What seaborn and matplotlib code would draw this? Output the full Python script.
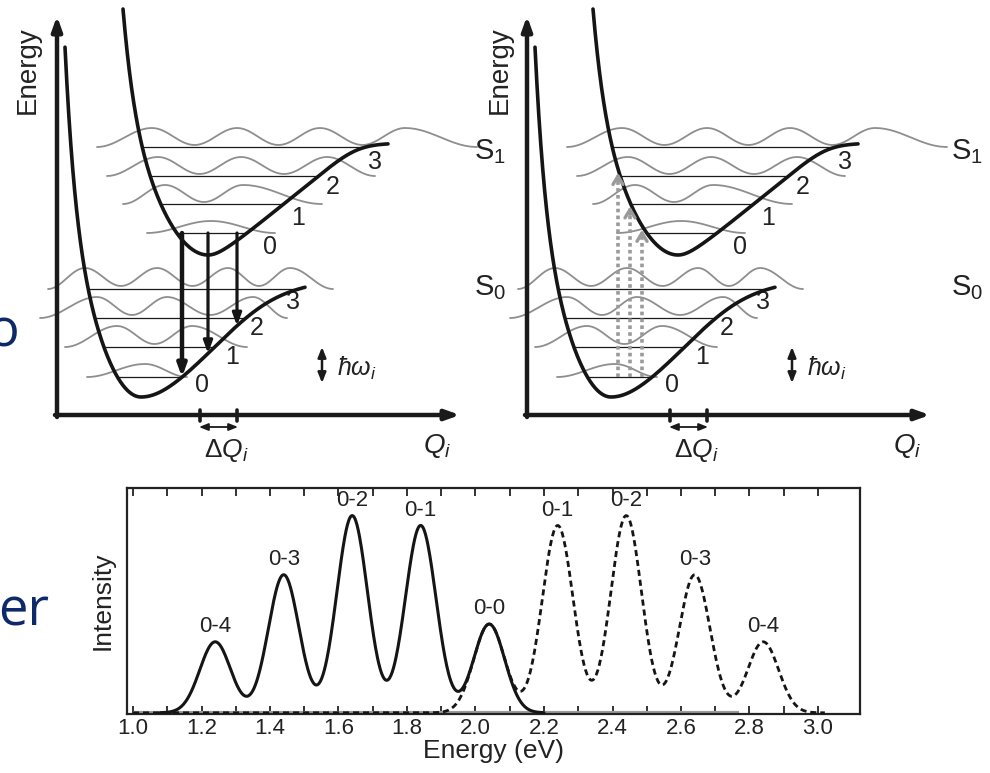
import numpy as np
import pandas as pd
import seaborn as sns
import matplotlib.pyplot as plt

sns.set_theme(style="white")
plt.rcParams['font.family'] = ['Liberation Sans', 'DejaVu Sans']
plt.rcParams['mathtext.fontset'] = 'custom'
plt.rcParams['mathtext.rm'] = 'Liberation Sans'
plt.rcParams['mathtext.it'] = 'Liberation Sans:italic'

# ---------------- spectrum (eV, relative intensity) ----------------
em_energy = [1.24, 1.44, 1.64, 1.84, 2.04]
em_height = [0.36, 0.70, 1.00, 0.95, 0.45]
em_label = ['0-4', '0-3', '0-2', '0-1', '0-0']
ab_energy = [2.04, 2.24, 2.44, 2.64, 2.84]
ab_height = [0.45, 0.95, 1.00, 0.70, 0.36]
ab_label = ['', '0-1', '0-2', '0-3', '0-4']
peak_sigma = 0.045
energy_ticks = [1.0, 1.2, 1.4, 1.6, 1.8, 2.0, 2.2, 2.4, 2.6, 2.8, 3.0]

# ------------- configuration-coordinate diagram (pixel units) -------------
# potential wells: minimum position, left wall and right branch shape
s0_well = dict(x0=141, y0=397, k=0.036, d1=81, s=1.15, c=40, D=120, p=4, xmin=65, xmax=305)
s1_well = dict(x0=208, y0=255, k=0.0225, d1=95, s=0.82, c=15, D=112, p=12, xmin=123, xmax=388)
s0_levels = [20, 50, 79, 108]
s1_levels = [22, 51, 79, 108]
level_names = ['0', '1', '2', '3']

# wave functions drawn on each level: start, peaks, end
s1_wave_start = [147, 123, 107, 97]
s1_wave_peaks = [[211], [165, 243], [158, 241, 327], [152, 237, 320, 405]]
s1_wave_end = [275, 322, 375, 477]
s0_wave_start = [87, 65, 40, 48]
s0_wave_peaks = [[145], [117, 192], [97, 167, 253], [85, 157, 228, 290]]
s0_wave_end = [187, 247, 287, 333]

emission_x = [182, 208, 237]
absorption_x = [148, 160, 172]
panel_offset = [0, 470]

wave_grey = '#8e8e8e'
navy = '#0c2a6a'
narrow = ['Liberation Sans Narrow', 'Liberation Sans']


def well_y(x, w):
    d = x - w['x0']
    hl = w['k'] * d ** 2 * (1 + (d / w['d1']) ** 6)
    g = w['s'] * (np.sqrt(d ** 2 + w['c'] ** 2) - w['c'])
    hr = g * (1 + (g / w['D']) ** w['p']) ** (-1.0 / w['p'])
    return w['y0'] - np.where(d < 0, hl, hr)


def crossings(w, h):
    xl = np.linspace(w['xmin'] - 10, w['x0'], 600)
    xr = np.linspace(w['x0'], w['xmax'], 600)
    hl = w['y0'] - well_y(xl, w)
    hr = w['y0'] - well_y(xr, w)
    return np.interp(h, hl[::-1], xl[::-1]), np.interp(h, hr, xr)


def wave(x_start, peaks, x_end, base, amp, off):
    kx, ky = [x_start], [base]
    for i, p in enumerate(peaks):
        if i > 0:
            kx.append((peaks[i - 1] + p) / 2)
            ky.append(base - off)
        kx.append(p)
        ky.append(base - off - amp)
    kx.append(x_end)
    ky.append(base)
    xs, ys = [], []
    t = np.linspace(0, 1, 30)
    for j in range(len(kx) - 1):
        xs.append(kx[j] + (kx[j + 1] - kx[j]) * t)
        ys.append(ky[j] + (ky[j + 1] - ky[j]) * (1 - np.cos(np.pi * t)) / 2)
    return np.concatenate(xs), np.concatenate(ys)


fig = plt.figure(figsize=(9.9, 7.73), dpi=100)
ax = fig.add_axes([0, 0, 1, 1])
ax.set_xlim(0, 990)
ax.set_ylim(773, 0)
ax.axis('off')

for pi, off in enumerate(panel_offset):
    # axes arrows
    ax.annotate('', xy=(57 + off, 16), xytext=(57 + off, 417),
                arrowprops=dict(arrowstyle='-|>,head_length=0.7,head_width=0.25', lw=3.2,
                                color='#1a1a1a', shrinkA=0, shrinkB=0))
    ax.annotate('', xy=(460 + off, 415), xytext=(55 + off, 415),
                arrowprops=dict(arrowstyle='-|>,head_length=0.7,head_width=0.25', lw=3.2,
                                color='#1a1a1a', shrinkA=0, shrinkB=0))

    for w, levels, starts, peaks, ends, amp, lift in [
            (s0_well, s0_levels, s0_wave_start, s0_wave_peaks, s0_wave_end, 18, 3),
            (s1_well, s1_levels, s1_wave_start, s1_wave_peaks, s1_wave_end, 17, 2)]:
        xs = np.linspace(w['xmin'], w['xmax'], 500)
        ys = well_y(xs, w)
        sns.lineplot(x=xs + off, y=ys, ax=ax, color='#151515', lw=2.6, sort=False,
                     estimator=None, zorder=5)
        for v, h in enumerate(levels):
            base = w['y0'] - h
            xa, xb = crossings(w, h)
            ax.plot([xa + off, xb + off], [base, base], color='#1a1a1a', lw=0.9, zorder=3)
            a = amp if v > 0 else amp - 5
            o = lift if v > 0 else 0
            wx, wy = wave(starts[v], peaks[v], ends[v], base, a, o)
            ax.plot(wx + off, wy, color=wave_grey, lw=1.3, zorder=2)

    # level numbers
    for v, (x, y) in enumerate([(270, 247), (298, 218), (333, 187), (375, 162)]):
        ax.text(x + off, y, level_names[v], fontsize=18, ha='center', va='center', color='#222222')
    for v, (x, y) in enumerate([(202, 385), (232, 357), (257, 328), (293, 302)]):
        ax.text(x + off, y, level_names[v], fontsize=18, ha='center', va='center', color='#222222')

    # text labels
    ax.text(28 + off + 2 * pi, 70, 'Energy', rotation=90, fontsize=20, ha='center',
            va='center', color='#222222')
    ax.text(437 + off, 446, r'$Q_i$', fontsize=20, ha='center', va='center', color='#222222')
    ax.text(226 + off, 450, r'$\Delta Q_i$', fontsize=19, ha='center', va='center',
            color='#222222')
    ax.text(337 + off, 368, r'$\hbar\omega_i$', fontsize=18, ha='left', va='center',
            color='#222222')
    ax.annotate('', xy=(322 + off, 347), xytext=(322 + off, 383),
                arrowprops=dict(arrowstyle='<|-|>,head_length=0.5,head_width=0.2', lw=1.8,
                                color='#1a1a1a', shrinkA=0, shrinkB=0))
    # delta Q ticks and arrow
    for xq in [200, 237]:
        ax.plot([xq + off, xq + off], [410, 421], color='#1a1a1a', lw=2.6)
    ax.annotate('', xy=(199 + off, 427), xytext=(238 + off, 427),
                arrowprops=dict(arrowstyle='<|-|>,head_length=0.45,head_width=0.18', lw=1.3,
                                color='#1a1a1a', shrinkA=0, shrinkB=0))

    # S labels
    sx = 490 + off * (967 - 490) / 470
    ax.text(sx, 152, r'S$_1$', fontsize=21, ha='center', va='center', color='#222222')
    ax.text(sx, 288, r'S$_0$', fontsize=21, ha='center', va='center', color='#222222')

# emission arrows (left panel)
top = s1_well['y0'] - s1_levels[0]
for i, x in enumerate(emission_x):
    y_end = float(well_y(np.array([x]), s0_well)[0])
    ax.annotate('', xy=(x, y_end), xytext=(x, top),
                arrowprops=dict(arrowstyle='-|>,head_length=0.6,head_width=0.22',
                                lw=3.2 if i == 0 else 2.3, color='#151515',
                                shrinkA=0, shrinkB=0), zorder=6)

# absorption arrows (right panel)
bottom = s0_well['y0'] - s0_levels[0]
for x in absorption_x:
    y_end = float(well_y(np.array([x]), s1_well)[0]) + 4
    ax.plot([x + 470, x + 470], [bottom, y_end + 6], color='#9a9a9a', lw=2.6,
            linestyle=(0, (1.0, 0.9)), zorder=6)
    ax.annotate('', xy=(x + 470, y_end), xytext=(x + 470, y_end + 8),
                arrowprops=dict(arrowstyle='->,head_length=0.5,head_width=0.3', lw=2.4,
                                color='#9a9a9a', shrinkA=0, shrinkB=0), zorder=6)

# fragments of slide text on the left edge (cut by the page edge, as in the source)
ax.text(19, 333, 'o', fontsize=38, ha='right', va='center', color=navy, family='Open Sans')
ax.text(49, 612, 'er', fontsize=38, ha='right', va='center', color=navy, family='Open Sans')

# ---------------- spectrum panel ----------------
axs = fig.add_axes([127 / 990, (773 - 714) / 773, (860 - 127) / 990, (714 - 488) / 773])
e_solid = np.linspace(1.08, 2.2, 600)
e_dash = np.linspace(1.0, 3.02, 900)
i_em = sum(h * np.exp(-(e_solid - c) ** 2 / (2 * peak_sigma ** 2))
           for c, h in zip(em_energy, em_height))
i_ab = sum(h * np.exp(-(e_dash - c) ** 2 / (2 * peak_sigma ** 2))
           for c, h in zip(ab_energy, ab_height))

axs.plot([1.0, 2.77], [0, 0], color='#9b9b9b', lw=3, zorder=1, solid_capstyle='butt')
sns.lineplot(x=e_dash, y=i_ab, ax=axs, color='#151515', lw=2.0, linestyle=(0, (2.2, 1.4)),
             estimator=None, zorder=3)
sns.lineplot(x=e_solid, y=i_em, ax=axs, color='#151515', lw=2.2, estimator=None, zorder=4)

for c, h, lab in zip(em_energy + ab_energy, em_height + ab_height, em_label + ab_label):
    if lab:
        axs.text(c, h + 0.025, lab, ha='center', va='bottom', fontsize=16,
                 family=narrow, color='#222222')

px_per_ev = 342.5
axs.set_xlim(1.0 - 6 / px_per_ev, 3.0 + 42 / px_per_ev)
axs.set_ylim(-0.006, 1.14)
axs.set_xticks(energy_ticks)
axs.set_xticklabels([f'{t:.1f}' for t in energy_ticks], family=narrow, fontsize=16)
axs.set_xticks(np.arange(1.1, 3.05, 0.2), minor=True)
axs.set_yticks([])
axs.tick_params(axis='x', which='both', direction='in', top=True, bottom=True, length=6,
                width=1.3, color='#222222', pad=3, labelcolor='#222222')
for sp in axs.spines.values():
    sp.set_linewidth(1.6)
    sp.set_color('#222222')
axs.set_xlabel('Energy (eV)', fontsize=19, labelpad=0, color='#222222')
axs.set_ylabel('Intensity', fontsize=19, labelpad=9, color='#222222')
axs.set_facecolor('white')

fig.savefig('out.png', dpi=100, facecolor='white')
